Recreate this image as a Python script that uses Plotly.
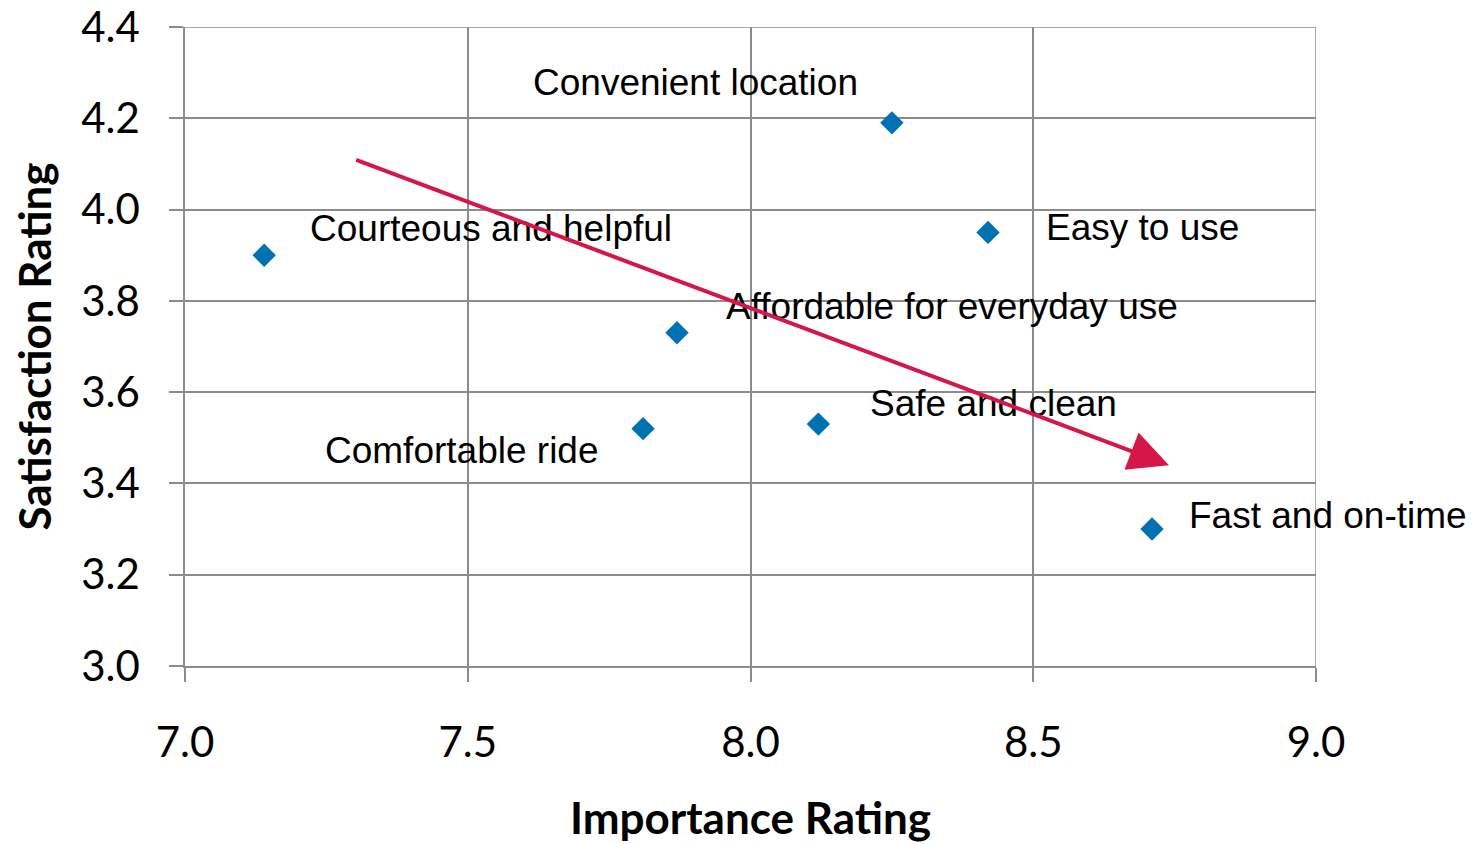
import plotly.graph_objects as go

labels = ["Convenient location", "Courteous and helpful", "Easy to use",
          "Affordable for everyday use", "Safe and clean", "Comfortable ride",
          "Fast and on-time"]
importance = [8.25, 7.14, 8.42, 7.87, 8.12, 7.81, 8.71]
satisfaction = [4.19, 3.90, 3.95, 3.73, 3.53, 3.52, 3.30]

trend_start = (7.30, 4.11)
trend_end = (8.74, 3.44)

x_ticks = [7.0, 7.5, 8.0, 8.5, 9.0]
y_ticks = [3.0, 3.2, 3.4, 3.6, 3.8, 4.0, 4.2, 4.4]

# pixel offsets of label centres relative to their points (layout only)
label_shift = [(-196, 40), (227, 27), (154, 5), (275, 26), (175, 21), (-181, -22), (176, 14)]

fig = go.Figure()
fig.add_trace(go.Scatter(
    x=importance, y=satisfaction, mode="markers",
    marker=dict(symbol="diamond", size=18, color="#0071B3"),
    hoverinfo="skip", showlegend=False,
))

annotations = []
for lab, xv, yv, (dx, dy) in zip(labels, importance, satisfaction, label_shift):
    annotations.append(dict(
        x=xv, y=yv, xref="x", yref="y", text=lab, showarrow=False,
        xshift=dx, yshift=dy, xanchor="center", yanchor="middle",
        font=dict(family="Liberation Sans, Arial, sans-serif", size=37, color="black"),
    ))

annotations.append(dict(
    x=trend_end[0], y=trend_end[1], ax=trend_start[0], ay=trend_start[1],
    xref="x", yref="y", axref="x", ayref="y", text="", showarrow=True,
    arrowhead=2, arrowsize=2.0, arrowwidth=4, arrowcolor="#D41747",
))

fig.update_layout(
    width=1475, height=844,
    margin=dict(l=177, r=167, t=19, b=186),
    paper_bgcolor="white", plot_bgcolor="white",
    annotations=annotations,
    font=dict(family="Lato, sans-serif", color="black"),
)
fig.update_xaxes(
    range=[7.0, 9.0], tickvals=x_ticks, ticktext=[f"{v:.1f}" for v in x_ticks],
    showgrid=True, gridcolor="#8C8C8C", gridwidth=1.5,
    showline=True, linecolor="#8C8C8C", linewidth=1.5,
    ticks="outside", ticklen=14, tickcolor="#8C8C8C", tickwidth=1.5,
    tickfont=dict(family="Lato, sans-serif", size=42, color="black"),
    ticklabelstandoff=25, automargin=False, ticklabeloverflow="allow",
    title=dict(text="<b>Importance Rating</b>", font=dict(family="Lato, sans-serif", size=44, color="black"), standoff=38),
    zeroline=False,
)
fig.update_yaxes(
    range=[3.0, 4.4], tickvals=y_ticks, ticktext=[f"{v:.1f}" for v in y_ticks],
    showgrid=True, gridcolor="#8C8C8C", gridwidth=1.5,
    showline=True, linecolor="#8C8C8C", linewidth=1.5,
    ticks="outside", ticklen=14, tickcolor="#8C8C8C", tickwidth=1.5,
    tickfont=dict(family="Lato, sans-serif", size=42, color="black"),
    ticklabelstandoff=21, automargin=False, ticklabeloverflow="allow",
    title=dict(text="<b>Satisfaction Rating</b>", font=dict(family="Lato, sans-serif", size=44, color="black"), standoff=20),
    zeroline=False,
)
fig.add_shape(type="line", xref="x", yref="y", x0=7.0, x1=9.0, y0=4.4, y1=4.4,
              line=dict(color="#8C8C8C", width=1.5))
fig.add_shape(type="line", xref="x", yref="y", x0=9.0, x1=9.0, y0=3.0, y1=4.4,
              line=dict(color="#8C8C8C", width=1.5))

fig.write_html("out.html")
